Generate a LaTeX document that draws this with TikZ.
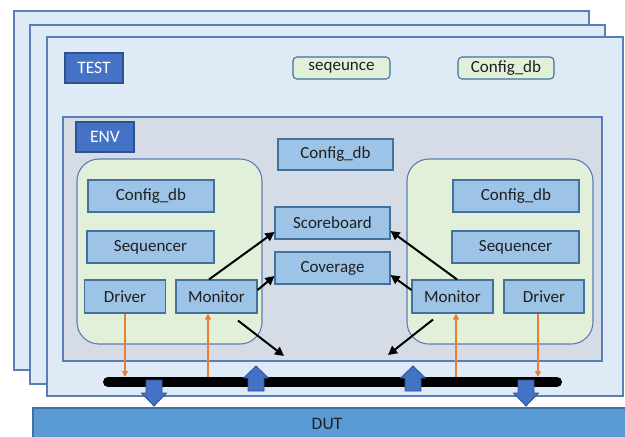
\documentclass[tikz,border=0pt]{standalone}
\usepackage{fontspec}
\setmainfont{Carlito}
\usetikzlibrary{arrows.meta,calc}
\definecolor{pagefill}{HTML}{DEEBF7}
\definecolor{pageline}{HTML}{5B7DB8}
\definecolor{envfill}{HTML}{D6DCE5}
\definecolor{agentfill}{HTML}{E2F0D9}
\definecolor{boxfill}{HTML}{9DC3E6}
\definecolor{boxline}{HTML}{41719C}
\definecolor{labfill}{HTML}{4472C4}
\definecolor{labline}{HTML}{2F528F}
\definecolor{dutfill}{HTML}{5B9BD5}
\definecolor{orangeA}{HTML}{ED7D31}
\definecolor{txt}{HTML}{1F1F1F}
\tikzset{
  page/.style={draw=pageline, fill=pagefill, line width=1.1pt},
  envarea/.style={draw=pageline, fill=envfill, line width=1.1pt},
  agent/.style={draw=pageline, fill=agentfill, line width=1.1pt, rounded corners=22pt},
  box/.style={draw=boxline, fill=boxfill, line width=1.1pt, inner sep=0pt, text=txt,
    font=\fontsize{17}{20}\selectfont},
  gbox/.style={draw=boxline, fill=agentfill, line width=1.1pt, rounded corners=4pt, inner sep=0pt,
    text=txt, font=\fontsize{17}{20}\selectfont},
  lab/.style={draw=labline, fill=labfill, line width=2.5pt, inner sep=0pt, text=white,
    font=\fontsize{17.5}{20}\selectfont},
  blk/.style={draw=black, line width=2pt, -{Triangle[length=9pt,width=9pt]}},
  org/.style={draw=orangeA, line width=1.6pt, -{Triangle[length=6pt,width=6pt]}},
  barrow/.style={draw=labline, fill=labfill, line width=0.8pt, line join=miter},
}
% block arrows: #1 = x of axis
\newcommand\myDownArrow[1]{%
  \draw[barrow] ({#1-8},380) -- ({#1+8},380) -- ({#1+8},393) -- ({#1+12.5},393)
    -- (#1,406) -- ({#1-12.5},393) -- ({#1-8},393) -- cycle;}
\newcommand\myUpArrow[1]{%
  \draw[barrow] ({#1-8},391) -- ({#1+8},391) -- ({#1+8},378) -- ({#1+12.5},378)
    -- (#1,366) -- ({#1-12.5},378) -- ({#1-8},378) -- cycle;}
\begin{document}
\begin{tikzpicture}[x=1pt,y=-1pt]
\useasboundingbox (0,0) rectangle (625,437);
\clip (0,0) rectangle (625,437);
\fill[white] (0,0) rectangle (625,437);
% stacked pages
\draw[page] (14,11) rectangle (589,370);
\draw[page] (30,25) rectangle (605,384);
\draw[page] (47,37) rectangle (623,396);
% env area
\draw[envarea] (63,117) rectangle (602,361);
% agents
\draw[agent] (77,159) rectangle (262,344);
\draw[agent] (407,159) rectangle (593,344);
% labels
\node[lab, minimum width=58pt, minimum height=30pt] (test) at (94,68) {TEST};
\node[lab, minimum width=58pt, minimum height=30pt] (env) at (105,137) {ENV};
\node[gbox, minimum width=97pt, minimum height=22pt] (seq) at (341.5,68) {seqeunce};
\node[gbox, minimum width=96pt, minimum height=22pt] (cfgtop) at (506,68) {Config\_db};
% center boxes
\node[box, minimum width=115pt, minimum height=31pt] (cfgc) at (335.5,154.5) {Config\_db};
\node[box, minimum width=115pt, minimum height=32pt] (sb) at (332.5,223) {Scoreboard};
\node[box, minimum width=115pt, minimum height=32pt] (cov) at (332.5,268) {Coverage};
% left agent
\node[box, minimum width=126pt, minimum height=32pt] (lcfg) at (151,196) {Config\_db};
\node[box, minimum width=127pt, minimum height=32pt] (lseq) at (150.5,247) {Sequencer};
\node[box, minimum width=81pt, minimum height=33pt] (ld) at (125,296.5) {Driver};
\node[box, minimum width=81pt, minimum height=33pt] (lm) at (216.5,296.5) {Monitor};
% right agent
\node[box, minimum width=126pt, minimum height=32pt] (rcfg) at (516,196) {Config\_db};
\node[box, minimum width=127pt, minimum height=32pt] (rseq) at (515.5,247) {Sequencer};
\node[box, minimum width=81pt, minimum height=33pt] (rm) at (452.5,296.5) {Monitor};
\node[box, minimum width=80pt, minimum height=33pt] (rd) at (544,296.5) {Driver};
% black arrows
\coordinate (cL) at (284,356);
\coordinate (cR) at (388,355);
\draw[blk] ([xshift=-7.5pt]lm.north) -- ([yshift=-9pt]sb.west);
\draw[blk] ([yshift=6.5pt]lm.east) -- ([yshift=-8pt]cov.west);
\draw[blk] ([xshift=21.5pt,yshift=-7pt]lm.south) -- (cL);
\draw[blk] ([xshift=4.5pt]rm.north) -- ([yshift=-8pt]sb.east);
\draw[blk] ([yshift=6.5pt]rm.west) -- ([yshift=-7pt]cov.east);
\draw[blk] ([xshift=-19.5pt,yshift=-6pt]rm.south) -- (cR);
% bus
\coordinate (busA) at (108,382);
\coordinate (busB) at (557,382);
\coordinate (busT) at (0,377);
\draw[line width=10pt, line cap=round] (busA) -- (busB);
% orange arrows
\draw[org] (ld.south) -- (ld.south |- busT);
\draw[org] ([xshift=-8.5pt]lm.south |- busT) -- ([xshift=-8.5pt]lm.south);
\draw[org] ([xshift=3.5pt]rm.south |- busT) -- ([xshift=3.5pt]rm.south);
\draw[org] ([xshift=-6pt]rd.south) -- ([xshift=-6pt]rd.south |- busT);
% block arrows
\myDownArrow{154}
\myDownArrow{526}
\myUpArrow{256}
\myUpArrow{413}
% DUT
\draw[draw=boxline, fill=dutfill, line width=1.1pt] (33,408) rectangle (660,460);
\node[text=txt, font=\fontsize{17.5}{20}\selectfont] (dut) at (327,424) {DUT};
\end{tikzpicture}
\end{document}
